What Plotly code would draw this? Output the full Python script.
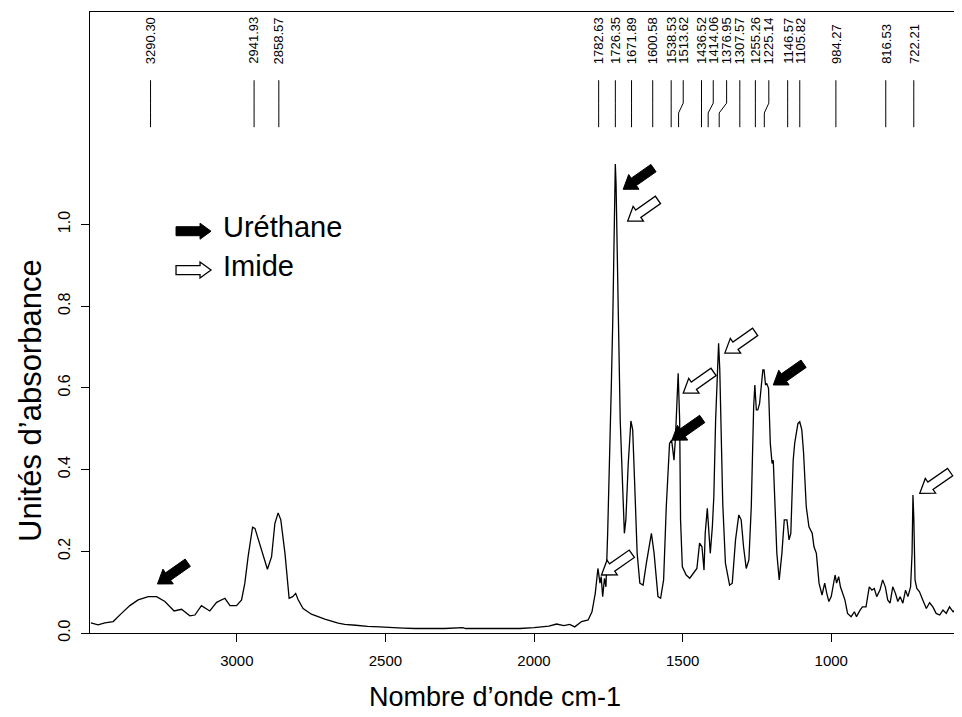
import math
import plotly.graph_objects as go

# ---------------- data ----------------
wavenumber = [
    3491, 3467, 3444, 3416, 3388, 3360, 3332, 3298, 3270, 3242, 3211, 3186, 3158, 3141,
    3119, 3091, 3068, 3040, 3023, 3001, 2984, 2973, 2962, 2947, 2939, 2922, 2897, 2883,
    2872, 2861, 2852, 2838, 2824, 2812, 2802, 2794, 2777, 2749, 2704, 2659, 2637, 2600,
    2560, 2520, 2480, 2440, 2400, 2350, 2300, 2240, 2230, 2180, 2120, 2080, 2048, 2000,
    1980, 1950, 1924, 1900, 1880, 1863, 1840, 1818, 1805, 1794, 1785, 1778, 1774, 1769,
    1763, 1758, 1752, 1749, 1744, 1740, 1735, 1731, 1728, 1726.5, 1724, 1721, 1716, 1710,
    1703, 1696, 1691, 1683, 1674, 1668, 1661, 1653, 1644, 1633, 1622, 1605, 1596, 1583,
    1574, 1564, 1555, 1544, 1537, 1533, 1529, 1524, 1519, 1515, 1510, 1507, 1501, 1488,
    1476, 1465, 1452, 1443, 1435, 1428, 1424, 1417, 1412, 1407, 1400, 1395, 1389, 1384,
    1379, 1375, 1370, 1365, 1356, 1342, 1333, 1322, 1311, 1303, 1295, 1286, 1277, 1269,
    1261, 1257, 1252, 1247, 1241, 1236, 1230, 1226, 1221, 1217, 1211, 1205, 1199, 1195,
    1188, 1183, 1175, 1166, 1158, 1149, 1142, 1136, 1128, 1123, 1112, 1106, 1099, 1093,
    1084, 1075, 1064, 1058, 1050, 1041, 1031, 1022, 1015, 1008, 1000, 991, 987, 982,
    975, 969, 962, 954, 945, 933, 922, 915, 903, 895, 883, 872, 863, 855,
    847, 836, 827, 818, 810, 802, 793, 784, 776, 768, 759, 750, 742, 733,
    728, 725, 722, 718, 712, 703, 692, 680, 669, 658, 647, 635, 624, 613,
    602, 590, 579, 568, 561,
]
absorbance = [
    0.025, 0.020, 0.025, 0.028, 0.048, 0.067, 0.081, 0.089, 0.089, 0.077, 0.054, 0.058, 0.042, 0.044,
    0.067, 0.054, 0.075, 0.085, 0.067, 0.067, 0.081, 0.122, 0.187, 0.259, 0.256, 0.215, 0.156, 0.187,
    0.268, 0.294, 0.277, 0.195, 0.085, 0.089, 0.097, 0.082, 0.060, 0.046, 0.034, 0.024, 0.021, 0.019,
    0.016, 0.015, 0.013, 0.012, 0.011, 0.011, 0.011, 0.013, 0.011, 0.011, 0.011, 0.011, 0.011, 0.013,
    0.015, 0.017, 0.022, 0.018, 0.021, 0.015, 0.028, 0.032, 0.052, 0.097, 0.158, 0.122, 0.138, 0.089,
    0.134, 0.113, 0.250, 0.358, 0.500, 0.603, 0.766, 0.960, 1.120, 1.148, 1.100, 0.930, 0.766, 0.521,
    0.383, 0.244, 0.277, 0.415, 0.519, 0.497, 0.358, 0.195, 0.122, 0.117, 0.171, 0.244, 0.195, 0.089,
    0.085, 0.130, 0.309, 0.464, 0.472, 0.440, 0.423, 0.480, 0.562, 0.636, 0.521, 0.277, 0.162, 0.142,
    0.134, 0.146, 0.158, 0.220, 0.211, 0.154, 0.244, 0.305, 0.244, 0.195, 0.260, 0.334, 0.521, 0.644,
    0.709, 0.644, 0.505, 0.317, 0.171, 0.117, 0.122, 0.228, 0.289, 0.277, 0.211, 0.158, 0.179, 0.309,
    0.554, 0.607, 0.546, 0.546, 0.562, 0.595, 0.644, 0.644, 0.607, 0.611, 0.599, 0.464, 0.415, 0.423,
    0.309, 0.195, 0.130, 0.195, 0.277, 0.277, 0.228, 0.244, 0.423, 0.464, 0.513, 0.517, 0.497, 0.440,
    0.309, 0.260, 0.244, 0.211, 0.195, 0.122, 0.093, 0.122, 0.097, 0.077, 0.089, 0.122, 0.142, 0.122,
    0.138, 0.113, 0.097, 0.081, 0.048, 0.040, 0.052, 0.040, 0.056, 0.064, 0.064, 0.113, 0.105, 0.109,
    0.089, 0.105, 0.130, 0.113, 0.081, 0.073, 0.113, 0.097, 0.077, 0.089, 0.073, 0.105, 0.089, 0.113,
    0.195, 0.338, 0.277, 0.130, 0.109, 0.101, 0.081, 0.060, 0.074, 0.064, 0.048, 0.044, 0.056, 0.048,
    0.064, 0.052, 0.060, 0.048, 0.050,
]

peak_wn = [3290.30, 2941.93, 2858.57, 1782.63, 1726.35, 1671.89, 1600.58, 1538.53, 1513.62,
           1436.52, 1414.06, 1376.95, 1307.57, 1255.26, 1225.14, 1146.57, 1105.82, 984.27,
           816.53, 722.21]
peak_label_wn = [3290.30, 2941.93, 2858.57, 1782.63, 1726.35, 1671.89, 1600.58, 1538.53, 1498.0,
                 1436.52, 1397.0, 1352.0, 1307.57, 1255.26, 1210.0, 1146.57, 1105.82, 984.27,
                 816.53, 722.21]
peak_text = ["3290.30", "2941.93", "2858.57", "1782.63", "1726.35", "1671.89", "1600.58",
             "1538.53", "1513.62", "1436.52", "1414.06", "1376.95", "1307.57", "1255.26",
             "1225.14", "1146.57", "1105.82", "984.27", "816.53", "722.21"]

arrow_wn = [3267, 1700, 1685, 1773, 1536, 1498, 1358, 1195, 702]
arrow_abs = [0.120, 1.086, 1.008, 0.142, 0.472, 0.587, 0.685, 0.607, 0.342]
arrow_kind = ["Uréthane", "Uréthane", "Imide", "Imide", "Uréthane", "Imide", "Imide", "Uréthane", "Imide"]

legend_labels = ["Uréthane", "Imide"]

x_ticks = [3000, 2500, 2000, 1500, 1000]
y_ticks = [0.0, 0.2, 0.4, 0.6, 0.8, 1.0]
y_tick_text = ["0.0", "0.2", "0.4", "0.6", "0.8", "1.0"]

x_title = "Nombre d’onde cm-1"
y_title = "Unités d’absorbance"

# ---------------- styling ----------------
FONT = "Liberation Sans, Arial, sans-serif"
X_RANGE = [3494, 560]
Y_RANGE = [0, 1.52]

# the page body adds an 8px offset; the figure is sized to fill the 962x717 window
PAGE_OFFSET = 8
FIG_W, FIG_H = 962 - PAGE_OFFSET, 717 - PAGE_OFFSET

# label line levels (absorbance units in the upper blank band)
LINE_TOP, KINK1, KINK2, LINE_BOT = 1.353, 1.297, 1.273, 1.238
LABEL_BASE = 1.39


def arrow_path(angle_deg, length=37, head_len=13, head_hw=9, shaft_hw=4.5):
    a = math.radians(angle_deg)
    dx, dy = math.cos(a), math.sin(a)
    nx, ny = -dy, dx
    pts = [
        (0, 0),
        (head_len * dx + head_hw * nx, head_len * dy + head_hw * ny),
        (head_len * dx + shaft_hw * nx, head_len * dy + shaft_hw * ny),
        (length * dx + shaft_hw * nx, length * dy + shaft_hw * ny),
        (length * dx - shaft_hw * nx, length * dy - shaft_hw * ny),
        (head_len * dx - shaft_hw * nx, head_len * dy - shaft_hw * ny),
        (head_len * dx - head_hw * nx, head_len * dy - head_hw * ny),
    ]
    return "M " + " L ".join(f"{x:.2f},{y:.2f}" for x, y in pts) + " Z"


def arrow_style(kind):
    if kind == "Uréthane":
        return dict(fillcolor="black", line=dict(color="black", width=1))
    return dict(fillcolor="white", line=dict(color="black", width=1.3))


fig = go.Figure()
fig.add_trace(go.Scatter(
    x=wavenumber, y=absorbance, mode="lines",
    line=dict(color="black", width=1.3),
    hoverinfo="skip", showlegend=False,
))

shapes = []
annotations = []

# peak labels and connector lines
for wn, lwn, txt in zip(peak_wn, peak_label_wn, peak_text):
    path = (f"M {lwn},{LINE_TOP} L {lwn},{KINK1} L {wn},{KINK2} L {wn},{LINE_BOT}")
    shapes.append(dict(type="path", xref="x", yref="y", path=path,
                       line=dict(color="black", width=1)))
    annotations.append(dict(
        x=lwn, y=LABEL_BASE, xref="x", yref="y", text=txt, showarrow=False,
        textangle=-90, xanchor="center", yanchor="bottom",
        font=dict(family=FONT, size=13, color="black"), borderpad=0,
    ))

# block arrows on the spectrum
for wn, ab, kind in zip(arrow_wn, arrow_abs, arrow_kind):
    shapes.append(dict(type="path", xref="x", yref="y", xsizemode="pixel", ysizemode="pixel",
                       xanchor=wn, yanchor=ab, path=arrow_path(35), **arrow_style(kind)))

# legend (arrow + text)
legend_y = [0.647, 0.5845]
for lab, ly in zip(legend_labels, legend_y):
    shapes.append(dict(type="path", xref="paper", yref="paper", xsizemode="pixel", ysizemode="pixel",
                       xanchor=0.1388, yanchor=ly,
                       path=arrow_path(180, length=35, head_len=11, head_hw=8, shaft_hw=4.5),
                       **arrow_style(lab)))
    annotations.append(dict(
        x=0.150, y=ly + 0.006, xref="paper", yref="paper", text=lab, showarrow=False,
        xanchor="left", yanchor="middle", font=dict(family=FONT, size=29, color="black"),
    ))

# axis titles
annotations.append(dict(x=0.464, y=-0.103, xref="paper", yref="paper", text=x_title,
                        showarrow=False, xanchor="center", yanchor="middle",
                        font=dict(family=FONT, size=27, color="black")))
annotations.append(dict(x=-0.069, y=0.375, xref="paper", yref="paper", text=y_title,
                        showarrow=False, xanchor="center", yanchor="middle", textangle=-90,
                        font=dict(family=FONT, size=31, color="black")))

fig.update_layout(
    width=FIG_W, height=FIG_H,
    margin=dict(l=90 - PAGE_OFFSET, r=0, t=12 - PAGE_OFFSET, b=84, pad=0),
    paper_bgcolor="white", plot_bgcolor="white",
    font=dict(family=FONT, color="black"),
    shapes=shapes, annotations=annotations,
    showlegend=False,
    xaxis=dict(range=X_RANGE, tickvals=x_ticks, ticks="outside", ticklen=8, tickwidth=1,
               tickcolor="black", showline=True, linecolor="black", linewidth=1, mirror=True,
               showgrid=False, zeroline=False, ticklabelstandoff=6,
               tickfont=dict(size=15, family=FONT)),
    yaxis=dict(range=Y_RANGE, tickvals=y_ticks, ticktext=y_tick_text, tickangle=-90,
               ticks="outside", ticklen=8, tickwidth=1, tickcolor="black", showline=True,
               linecolor="black", linewidth=1, mirror=False, showgrid=False, zeroline=False,
               ticklabelstandoff=5, tickfont=dict(size=16, family=FONT)),
)

fig.write_html("out.html")
